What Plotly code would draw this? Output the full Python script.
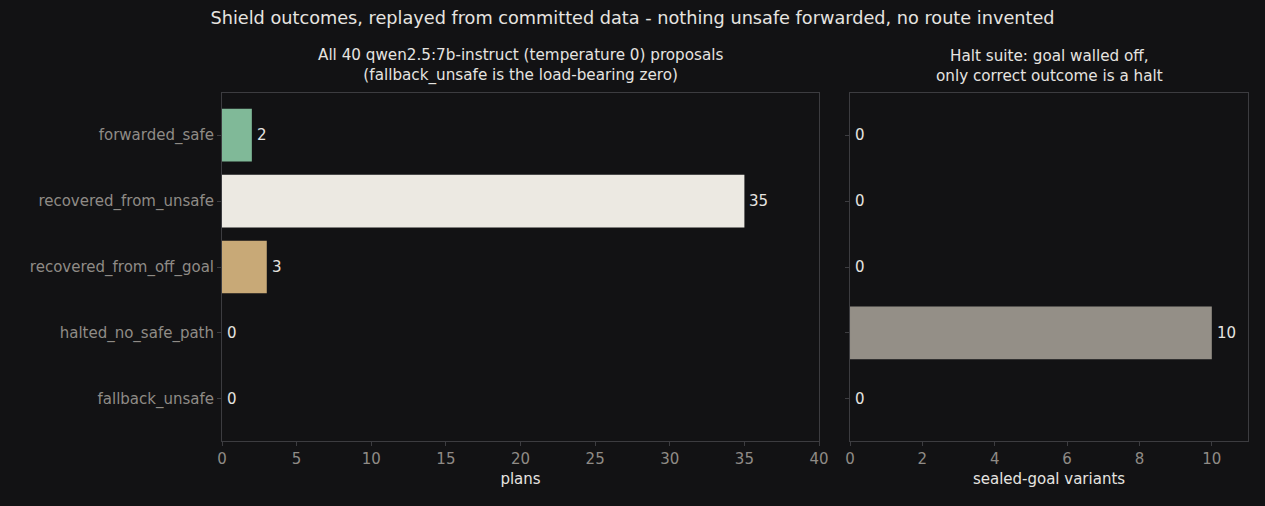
import plotly.graph_objects as go
from plotly.subplots import make_subplots

categories = ["forwarded_safe", "recovered_from_unsafe", "recovered_from_off_goal",
              "halted_no_safe_path", "fallback_unsafe"]
proposal_counts = [2, 35, 3, 0, 0]
halt_counts = [0, 0, 0, 10, 0]
bar_colors = ["#80b998", "#ece9e2", "#c8a977", "#948f87", "#d0705f"]

BG = "#121214"
FRAME = "#3c3c40"
TICK = "#8f8b86"
TEXT = "#e6e4e0"
FONT = "DejaVu Sans"

fig = make_subplots(rows=1, cols=2, horizontal_spacing=0.0)

fig.add_trace(go.Bar(y=categories, x=proposal_counts, orientation="h",
                     marker=dict(color=bar_colors, line=dict(width=0)), width=0.8,
                     showlegend=False, hoverinfo="x+y"), row=1, col=1)
fig.add_trace(go.Bar(y=categories, x=halt_counts, orientation="h",
                     marker=dict(color=bar_colors, line=dict(width=0)), width=0.8,
                     showlegend=False, hoverinfo="x+y"), row=1, col=2)

for xref, yref, vals in (("x", "y", proposal_counts), ("x2", "y2", halt_counts)):
    for cat, v in zip(categories, vals):
        fig.add_annotation(x=v, y=cat, xref=xref, yref=yref, text=str(v), showarrow=False,
                           xanchor="left", yanchor="middle", xshift=3,
                           font=dict(color=TEXT, size=15, family=FONT))

axis_common = dict(showgrid=False, zeroline=False, showline=True, linecolor=FRAME,
                   linewidth=1, mirror=True, ticks="outside", ticklen=4, tickcolor=FRAME,
                   tickfont=dict(color=TICK, size=15, family=FONT))

fig.update_xaxes(**axis_common, domain=[0, 0.5819], range=[0, 40], dtick=5,
                 title=dict(text="plans", font=dict(color=TEXT, size=15, family=FONT), standoff=6),
                 row=1, col=1)
fig.update_xaxes(**axis_common, domain=[0.6121, 1], range=[0, 11], dtick=2,
                 title=dict(text="sealed-goal variants", font=dict(color=TEXT, size=15, family=FONT), standoff=6),
                 row=1, col=2)
fig.update_yaxes(**axis_common, categoryorder="array", categoryarray=categories,
                 range=[4.64, -0.64], row=1, col=1)
fig.update_yaxes(**axis_common, categoryorder="array", categoryarray=categories,
                 range=[4.64, -0.64], showticklabels=False, row=1, col=2)

fig.update_layout(
    width=1265, height=506,
    margin=dict(l=222, r=17, t=93, b=65, autoexpand=False),
    paper_bgcolor=BG, plot_bgcolor=BG,
    font=dict(family=FONT, color=TEXT),
    title=dict(text="Shield outcomes, replayed from committed data - nothing unsafe forwarded, no route invented",
               x=0.5, xanchor="center", y=0.965, yanchor="middle",
               font=dict(size=17.7, color=TEXT, family=FONT)),
    bargap=0.2,
)

fig.add_annotation(text="All 40 qwen2.5:7b-instruct (temperature 0) proposals<br>(fallback_unsafe is the load-bearing zero)",
                   xref="x domain", yref="paper", x=0.5, y=1.0, yshift=6, xanchor="center", yanchor="bottom",
                   showarrow=False, font=dict(size=15.2, color=TEXT, family=FONT))
fig.add_annotation(text="Halt suite: goal walled off,<br>only correct outcome is a halt",
                   xref="x2 domain", yref="paper", x=0.5, y=1.0, yshift=6, xanchor="center", yanchor="bottom",
                   showarrow=False, font=dict(size=15.2, color=TEXT, family=FONT))

fig.write_html("out.html", config={"displayModeBar": False},
               post_script="document.body.style.margin='0';document.body.style.overflow='hidden';"
                           "document.body.style.background='#121214';")
